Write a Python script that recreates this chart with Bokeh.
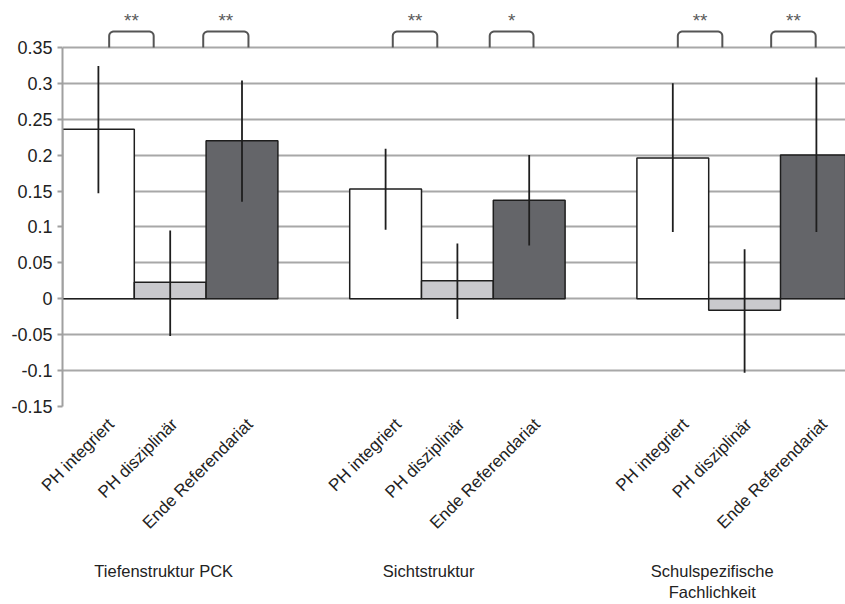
import numpy as np
from bokeh.plotting import figure
from bokeh.models import ColumnDataSource, FixedTicker, Range1d, LinearAxis
from bokeh.core.properties import value
from bokeh.embed import file_html
from bokeh.resources import INLINE

# ---------------- data ----------------
categories = ["PH integriert", "PH disziplinär", "Ende Referendariat"]
groups = ["Tiefenstruktur PCK", "Sichtstruktur", "Schulspezifische\nFachlichkeit"]

pck_mean = [0.236, 0.023, 0.220]
pck_low = [0.147, -0.052, 0.135]
pck_high = [0.324, 0.095, 0.304]

sicht_mean = [0.153, 0.025, 0.137]
sicht_low = [0.096, -0.028, 0.074]
sicht_high = [0.209, 0.077, 0.200]

schul_mean = [0.196, -0.016, 0.200]
schul_low = [0.093, -0.103, 0.093]
schul_high = [0.300, 0.069, 0.308]

yticks = [-0.15, -0.1, -0.05, 0, 0.05, 0.1, 0.15, 0.2, 0.25, 0.3, 0.35]
ytick_labels = ["-0.15", "-0.1", "-0.05", "0", "0.05", "0.1", "0.15", "0.2", "0.25", "0.3", "0.35"]

# significance brackets (left / right end in bar units, label)
sig_left = [0.65, 1.96, 4.60, 5.95, 8.57, 9.87]
sig_right = [1.27, 2.59, 5.22, 6.56, 9.19, 10.49]
sig_labels = ["**", "**", "**", "*", "**", "**"]

group_label_x = [1.41, 5.10, 9.05]

series_colors = ["#ffffff", "#c9c9cd", "#646569"]
FONT = "Liberation Sans"
TXT = "#222222"

# ---------------- layout ----------------
means = [pck_mean, sicht_mean, schul_mean]
lows = [pck_low, sicht_low, schul_low]
highs = [pck_high, sicht_high, schul_high]

label_dx = [0.18, 0.06, 0.11]   # tick-label anchor shift per category (bar units)

xs, tops, lo, hi, cols, lx = [], [], [], [], [], []
label_map = {}
for g in range(3):
    for i in range(3):
        xc = 4 * g + i + 0.5
        xs.append(xc)
        tops.append(means[g][i])
        lo.append(lows[g][i])
        hi.append(highs[g][i])
        cols.append(series_colors[i])
        t = round(xc + label_dx[i], 4)
        lx.append(t)
        label_map[t] = categories[i]

src = ColumnDataSource(dict(x=xs, top=tops, lo=lo, hi=hi, color=cols))

W, H = 845, 604
left_b = 62
px_x = 71.8
px_y = 720.0
frame_top_px = 47          # screen px from top to y = 0.35
frame_bottom_px = 407      # screen px from top to y = -0.15
y_top = yticks[-1] + frame_top_px / px_y
y_bottom = yticks[0]
x_end = (W - left_b) / px_x

p = figure(width=W, height=H, output_backend="svg", toolbar_location=None,
           x_range=Range1d(0, x_end), y_range=Range1d(y_bottom, y_top),
           min_border_left=left_b, min_border_right=0, min_border_top=0,
           min_border_bottom=H - frame_bottom_px)
p.outline_line_color = None
p.background_fill_color = "white"
p.border_fill_color = "white"

# grid
p.xgrid.visible = False
p.ygrid.ticker = FixedTicker(ticks=yticks)
p.ygrid.grid_line_color = "#a8a8a8"
p.ygrid.grid_line_width = 2

# y axis
ya = p.yaxis[0]
ya.ticker = FixedTicker(ticks=yticks)
ya.major_label_overrides = {t: l for t, l in zip(yticks, ytick_labels)}
ya.bounds = (yticks[0], yticks[-1])
ya.axis_line_color = "#a0a0a0"
ya.axis_line_width = 2
ya.major_tick_line_color = "#a0a0a0"
ya.major_tick_line_width = 2
ya.major_tick_out = 5
ya.major_tick_in = 0
ya.minor_tick_line_color = None
ya.major_label_text_font = FONT
ya.major_label_text_font_size = "18px"
ya.major_label_text_color = TXT
ya.major_label_standoff = 5

# x axis with rotated category labels
xa = p.xaxis[0]
xa.ticker = FixedTicker(ticks=lx)
xa.major_label_overrides = label_map
xa.major_label_orientation = np.pi / 4
xa.axis_line_color = None
xa.major_tick_line_color = None
xa.minor_tick_line_color = None
xa.major_tick_out = 0
xa.major_tick_in = 0
xa.major_label_text_font = FONT
xa.major_label_text_font_size = "17px"
xa.major_label_text_color = TXT
xa.major_label_standoff = 15

# second x axis with group labels
ga = LinearAxis(ticker=FixedTicker(ticks=group_label_x),
                major_label_overrides={x: n for x, n in zip(group_label_x, groups)})
ga.axis_line_color = None
ga.major_tick_line_color = None
ga.minor_tick_line_color = None
ga.major_tick_out = 0
ga.major_tick_in = 0
ga.major_label_text_font = FONT
ga.major_label_text_font_size = "16.5px"
ga.major_label_text_color = TXT
ga.major_label_standoff = 19
p.add_layout(ga, "below")

# bars
p.vbar(x="x", top="top", bottom=0, width=1.0, fill_color="color",
       line_color="#1e1e1e", line_width=1.5, source=src)
# error bars
p.segment(x0="x", y0="lo", x1="x", y1="hi", line_color="#1e1e1e",
          line_width=1.8, source=src)

# significance brackets
base = yticks[-1]
bh = 0.022
rx, ry = 0.06, 0.006
bx, by, sx, sy = [], [], [], []
theta = np.linspace(0, np.pi / 2, 6)
for l, r in zip(sig_left, sig_right):
    cx_l = l + rx - rx * np.cos(theta)
    cy_l = base + bh - ry + ry * np.sin(theta)
    cx_r = r - rx + rx * np.cos(theta[::-1])
    cy_r = base + bh - ry + ry * np.sin(theta[::-1])
    bx.append([l] + list(cx_l) + list(cx_r) + [r])
    by.append([base] + list(cy_l) + list(cy_r) + [base])
    sx.append((l + r) / 2)
    sy.append(base + 0.037)
p.multi_line(xs=bx, ys=by, line_color="#555555", line_width=2)
p.text(x=sx, y=sy, text=sig_labels, text_font=value(FONT), text_font_size="19px",
       text_color="#5a5a5a", text_align="center", text_baseline="middle")

open("out.html", "w").write(file_html(p, INLINE))
